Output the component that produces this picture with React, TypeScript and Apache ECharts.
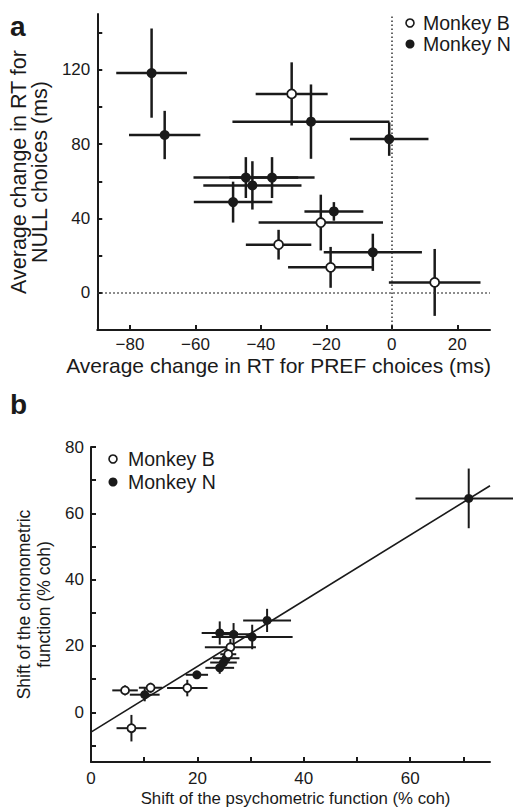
import React, { useEffect, useRef } from "react";
import * as echarts from "echarts";

// ---------- Panel a data ----------
const aBX = [-30.6, -21.7, -34.6, -18.7, 13.1];
const aBY = [107, 37.8, 25.9, 13.7, 5.6];
const aBXErr = [11, 19, 10, 13, 14];
const aBYErr = [17, 15, 8, 11, 18];

const aNX = [-73.4, -69.4, -44.6, -36.6, -42.6, -48.5, -24.7, -0.8, -17.7, -5.8];
const aNY = [118.2, 84.9, 62, 62, 57.8, 48.8, 92.1, 82.7, 43.8, 21.8];
const aNXErr = [10.8, 10.9, 16, 13, 15, 12, 24, 12, 9, 15];
const aNYErr = [24, 13, 11, 11, 13, 11, 20, 9, 5, 10];

const aXTicks = [-80, -60, -40, -20, 0, 20];
const aYTicks = [0, 20, 40, 60, 80, 100, 120, 140];
const aYLabels = [0, 40, 80, 120];

// ---------- Panel b data ----------
const bBX = [6.4, 11.2, 7.6, 18.1, 26.2, 25.8];
const bBY = [6.6, 7.4, -4.8, 7.3, 19.6, 17.5];
const bBXErr = [2.4, 2.2, 2.8, 3.8, 4.8, 1.5];
const bBYErr = [1.5, 1.5, 4, 2.5, 2.5, 2];

const bNX = [10.1, 19.9, 24.2, 24.9, 25.4, 24.2, 26.8, 30.3, 33.1, 71];
const bNY = [5.3, 11.3, 13.4, 15.0, 16.3, 23.9, 23.5, 22.7, 27.7, 64.5];
const bNXErr = [2.8, 2.1, 2.7, 2.5, 2.5, 3.4, 3.2, 7.6, 4.5, 10];
const bNYErr = [2, 1, 1.8, 1.5, 1.5, 3.5, 3.4, 3.7, 3.5, 9];

const bFitX = [0, 75];
const bFitY = [-6, 68.3];

const bXTicks = [10, 20, 30, 40, 50, 60, 70];
const bXLabels = [0, 20, 40, 60];
const bYTicks = [-10, 0, 10, 20, 30, 40, 50, 60, 70, 80];
const bYLabels = [0, 20, 40, 60, 80];

const FONT = "'Liberation Sans', Arial, Helvetica, sans-serif";
const INK = "#1a1a1a";

function pts(x: number[], y: number[], ex: number[], ey: number[]) {
  return x.map((v, i) => [v, y[i], ex[i], ey[i]]);
}

function errBars(name: string, idx: number, data: number[][], lw: number) {
  return {
    name,
    type: "custom",
    xAxisIndex: idx,
    yAxisIndex: idx,
    clip: false,
    z: 2,
    data,
    renderItem: (_p: any, api: any) => {
      const x = api.value(0);
      const y = api.value(1);
      const ex = api.value(2);
      const ey = api.value(3);
      const l = api.coord([x - ex, y]);
      const r = api.coord([x + ex, y]);
      const b = api.coord([x, y - ey]);
      const t = api.coord([x, y + ey]);
      return {
        type: "group",
        children: [
          { type: "line", shape: { x1: l[0], y1: l[1], x2: r[0], y2: r[1] }, style: { stroke: INK, lineWidth: lw } },
          { type: "line", shape: { x1: b[0], y1: b[1], x2: t[0], y2: t[1] }, style: { stroke: INK, lineWidth: lw } },
        ],
      };
    },
  };
}

function dots(name: string, idx: number, x: number[], y: number[], open: boolean, size: number) {
  return {
    name,
    type: "scatter",
    xAxisIndex: idx,
    yAxisIndex: idx,
    z: 5,
    symbol: "circle",
    symbolSize: size,
    clip: false,
    data: x.map((v, i) => [v, y[i]]),
    itemStyle: open
      ? { color: "#ffffff", borderColor: INK, borderWidth: 1.8, opacity: 1 }
      : { color: INK, borderColor: INK, borderWidth: 0, opacity: 1 },
  };
}

const axisLine = { show: true, onZero: false, lineStyle: { color: INK, width: 2 } };
const minus = (v: number) => String(v).replace("-", "\u2212");

export default function App() {
  const ref = useRef<HTMLDivElement>(null);
  useEffect(() => {
    if (!ref.current) return;
    const chart = echarts.init(ref.current, undefined, { renderer: "svg" });
    const option: any = {
      animation: false,
      backgroundColor: "#ffffff",
      textStyle: { fontFamily: FONT },
      grid: [
        { left: 89, top: 14, width: 401, height: 316, containLabel: false },
        { left: 91, top: 447, width: 399, height: 315, containLabel: false },
      ],
      xAxis: [
        {
          gridIndex: 0,
          type: "value",
          min: -90,
          max: 30,
          axisLine,
          splitLine: { show: false },
          axisTick: { show: true, inside: true, length: 5, lineStyle: { color: INK, width: 2 }, customValues: aXTicks },
          axisLabel: { show: true, customValues: aXTicks, color: INK, fontSize: 17, fontFamily: FONT, margin: 6, formatter: minus },
          name: "Average change in RT for PREF choices (ms)",
          nameLocation: "middle",
          nameGap: 25,
          nameTextStyle: { color: INK, fontSize: 21, fontFamily: FONT, verticalAlign: "top", padding: [0, 30, 0, 0] },
        },
        {
          gridIndex: 1,
          type: "value",
          min: 0,
          max: 75,
          axisLine,
          splitLine: { show: false },
          axisTick: { show: true, inside: true, length: 5, lineStyle: { color: INK, width: 2 }, customValues: bXTicks },
          axisLabel: { show: true, customValues: bXLabels, color: INK, fontSize: 17, fontFamily: FONT, margin: 8 },
          name: "Shift of the psychometric function (% coh)",
          nameLocation: "middle",
          nameGap: 28,
          nameTextStyle: { color: INK, fontSize: 16.8, fontFamily: FONT, verticalAlign: "top", padding: [0, 0, 0, 10] },
        },
      ],
      yAxis: [
        {
          gridIndex: 0,
          type: "value",
          min: -20,
          max: 150,
          axisLine,
          splitLine: { show: false },
          axisTick: { show: true, inside: true, length: 5, lineStyle: { color: INK, width: 2 }, customValues: aYTicks },
          axisLabel: { show: true, customValues: aYLabels, color: INK, fontSize: 17, fontFamily: FONT, margin: 7 },
          name: "Average change in RT for\nNULL choices (ms)",
          nameLocation: "middle",
          nameRotate: 90,
          nameGap: 36,
          nameTextStyle: { color: INK, fontSize: 21.5, fontFamily: FONT, lineHeight: 21 },
        },
        {
          gridIndex: 1,
          type: "value",
          min: -15,
          max: 80,
          axisLine,
          splitLine: { show: false },
          axisTick: { show: true, inside: true, length: 5, lineStyle: { color: INK, width: 2 }, customValues: bYTicks },
          axisLabel: { show: true, customValues: bYLabels, color: INK, fontSize: 17, fontFamily: FONT, margin: 7 },
          name: "Shift of the chronometric\nfunction (% coh)",
          nameLocation: "middle",
          nameRotate: 90,
          nameGap: 34,
          nameTextStyle: { color: INK, fontSize: 17.5, fontFamily: FONT, lineHeight: 20 },
        },
      ],
      series: [
        {
          name: "zero-lines",
          type: "line",
          xAxisIndex: 0,
          yAxisIndex: 0,
          data: [],
          markLine: {
            silent: true,
            symbol: "none",
            label: { show: false },
            lineStyle: { type: [1.5, 2.5], color: "#333", width: 1.5 },
            data: [{ xAxis: 0 }, { yAxis: 0 }],
          },
        },
        errBars("Monkey B bars a", 0, pts(aBX, aBY, aBXErr, aBYErr), 2.5),
        errBars("Monkey N bars a", 0, pts(aNX, aNY, aNXErr, aNYErr), 2.5),
        dots("Monkey N", 0, aNX, aNY, false, 10),
        dots("Monkey B", 0, aBX, aBY, true, 9),
        {
          name: "fit",
          type: "line",
          xAxisIndex: 1,
          yAxisIndex: 1,
          symbol: "none",
          z: 1,
          lineStyle: { color: INK, width: 1.6 },
          data: bFitX.map((v, i) => [v, bFitY[i]]),
        },
        errBars("Monkey B bars b", 1, pts(bBX, bBY, bBXErr, bBYErr), 2),
        errBars("Monkey N bars b", 1, pts(bNX, bNY, bNXErr, bNYErr), 2),
        dots("Monkey N", 1, bNX, bNY, false, 9),
        dots("Monkey B", 1, bBX, bBY, true, 8),
      ],
      graphic: [
        { type: "text", left: 10, top: 12, style: { text: "a", font: `bold 28px ${FONT}`, fill: INK } },
        { type: "text", left: 10, top: 390, style: { text: "b", font: `bold 28px ${FONT}`, fill: INK } },
        { type: "circle", shape: { cx: 410, cy: 23, r: 4 }, style: { fill: "#fff", stroke: INK, lineWidth: 1.6 } },
        { type: "text", x: 423, y: 23, style: { text: "Monkey B", font: `19.5px ${FONT}`, fill: INK, verticalAlign: "middle" } },
        { type: "circle", shape: { cx: 410, cy: 44, r: 4.5 }, style: { fill: INK } },
        { type: "text", x: 423, y: 44, style: { text: "Monkey N", font: `19.5px ${FONT}`, fill: INK, verticalAlign: "middle" } },
        { type: "circle", shape: { cx: 113, cy: 459, r: 4 }, style: { fill: "#fff", stroke: INK, lineWidth: 1.6 } },
        { type: "text", x: 128, y: 459, style: { text: "Monkey B", font: `19.5px ${FONT}`, fill: INK, verticalAlign: "middle" } },
        { type: "circle", shape: { cx: 113, cy: 482, r: 4.5 }, style: { fill: INK } },
        { type: "text", x: 128, y: 482, style: { text: "Monkey N", font: `19.5px ${FONT}`, fill: INK, verticalAlign: "middle" } },
      ],
    };
    chart.setOption(option);
    return () => chart.dispose();
  }, []);
  return (
    <div
      ref={ref}
      style={{ position: "absolute", left: 0, top: 0, width: 513, height: 808, background: "#fff" }}
    />
  );
}
